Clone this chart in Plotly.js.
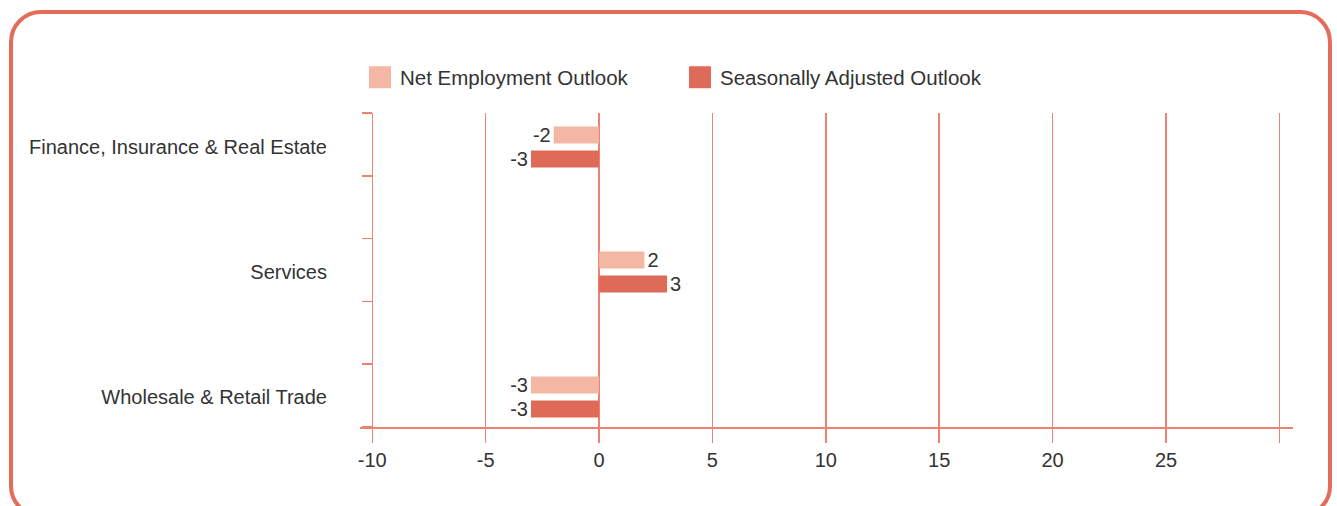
<!DOCTYPE html>
<html>
<head>
<meta charset="utf-8">
<script src="https://cdn.plot.ly/plotly-3.0.1.min.js"></script>
<style>
  html, body { margin: 0; padding: 0; background: #ffffff; }
  #wrap { position: relative; width: 1337px; height: 506px; overflow: hidden; }
  #frame { position: absolute; left: 9px; top: 10px; width: 1315px; height: 500px;
           border: 4px solid #E46C5A; border-radius: 32px; box-sizing: content-box; }
  #chart { position: absolute; left: 0; top: 0; width: 1337px; height: 506px; }
</style>
</head>
<body>
<div id="wrap">
  <div id="frame"></div>
  <div id="chart"></div>
</div>
<script>
// ---- data ----
const categories = ["Finance, Insurance & Real Estate", "Services", "Wholesale & Retail Trade"];
const netEmploymentOutlook = [-2, 2, -3];
const seasonallyAdjustedOutlook = [-3, 3, -3];
const seriesNames = ["Net Employment Outlook", "Seasonally Adjusted Outlook"];
const xTickValues = [-10, -5, 0, 5, 10, 15, 20, 25, 30];
const xTickLabels = ["-10", "-5", "0", "5", "10", "15", "20", "25", ""];

const LIGHT = "#F3B7A3";
const DARK = "#E06A58";
const GRID = "#EE8272";
const TEXT = "#333333";
const FONT = "Liberation Sans, Arial, Helvetica, sans-serif";

const traces = [
  {
    type: "bar", orientation: "h",
    name: seriesNames[0],
    y: categories, x: netEmploymentOutlook,
    text: netEmploymentOutlook.map(String),
    textposition: "outside", cliponaxis: false, constraintext: "none",
    textfont: {family: FONT, size: 20, color: TEXT},
    marker: {color: LIGHT},
    hoverinfo: "x+name"
  },
  {
    type: "bar", orientation: "h",
    name: seriesNames[1],
    y: categories, x: seasonallyAdjustedOutlook,
    text: seasonallyAdjustedOutlook.map(String),
    textposition: "outside", cliponaxis: false, constraintext: "none",
    textfont: {family: FONT, size: 20, color: TEXT},
    marker: {color: DARK},
    hoverinfo: "x+name"
  },
  {
    type: "scatter", x: [], y: [], yaxis: "y2",
    showlegend: false, hoverinfo: "skip"
  }
];

const layout = {
  width: 1337, height: 506,
  margin: {l: 360, r: 44, t: 113, b: 79},
  paper_bgcolor: "rgba(0,0,0,0)",
  plot_bgcolor: "rgba(0,0,0,0)",
  font: {family: FONT, size: 20, color: TEXT},
  barmode: "group",
  bargap: 0.616,
  bargroupgap: 0.29,
  showlegend: true,
  legend: {
    orientation: "h", x: 0.0, xanchor: "left", y: 1.05, yanchor: "bottom",
    yref: "paper", font: {family: FONT, size: 20.5, color: TEXT},
    entrywidth: 275, entrywidthmode: "pixels", traceorder: "normal",
    bgcolor: "rgba(0,0,0,0)", itemclick: false, itemdoubleclick: false
  },
  xaxis: {
    range: [-10.54, 30.6],
    tickvals: xTickValues, ticktext: xTickLabels,
    showgrid: true, gridcolor: GRID, gridwidth: 1.5,
    zeroline: false,
    showline: true, linecolor: GRID, linewidth: 1.5,
    ticks: "outside", ticklen: 14, tickcolor: GRID, tickwidth: 1.5,
    tickfont: {family: FONT, size: 20, color: TEXT},
    fixedrange: true
  },
  yaxis: {
    type: "category",
    range: [2.24, -0.272],
    showgrid: false, zeroline: false, showline: false,
    ticks: "", ticklabelstandoff: 32,
    tickfont: {family: FONT, size: 20, color: TEXT},
    fixedrange: true
  },
  yaxis2: {
    overlaying: "y", anchor: "free", side: "left",
    position: 12 / 933,
    range: [0, 5], tickvals: [0, 1, 2, 3, 4, 5],
    showticklabels: false, showgrid: false, zeroline: false, showline: false,
    ticks: "outside", ticklen: 10, tickcolor: GRID, tickwidth: 1.5,
    fixedrange: true
  }
};

Plotly.newPlot("chart", traces, layout, {displayModeBar: false, staticPlot: true}).then(function () {
  document.querySelectorAll(".legend .legendpoints path").forEach(function (p) {
    p.setAttribute("d", "M11,11H-11V-11H11Z");
  });
});
</script>
</body>
</html>
